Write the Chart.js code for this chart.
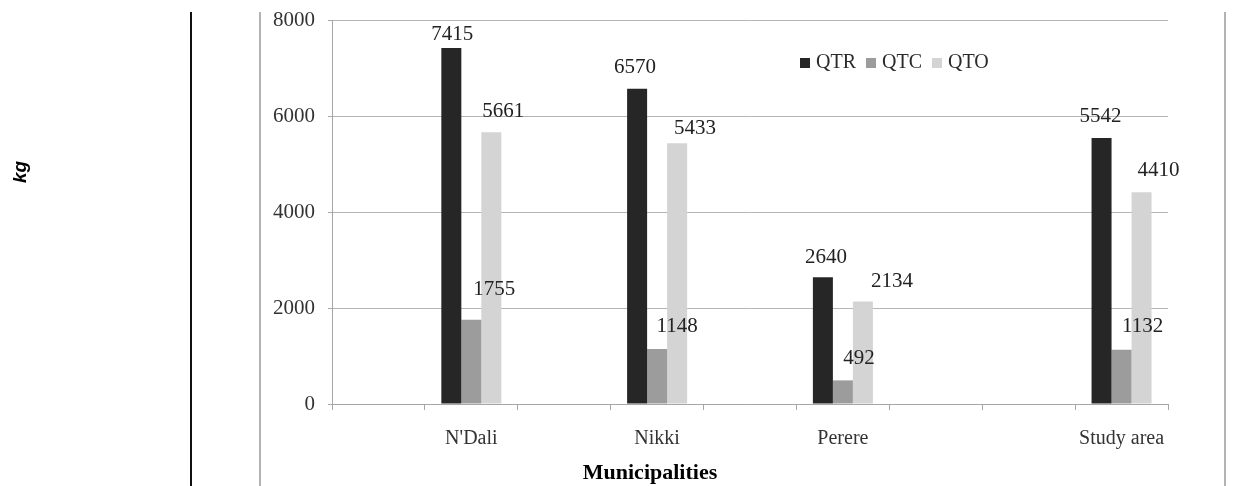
<!DOCTYPE html>
<html>
<head>
<meta charset="utf-8">
<title>QTR, QTC and QTO by municipality</title>
<style>
  html, body { margin: 0; padding: 0; background: #ffffff; }
  #wrap { width: 1247px; height: 486px; position: relative; }
  canvas { display: block; }
</style>
<script src="https://cdn.jsdelivr.net/npm/chart.js@4/dist/chart.umd.min.js"></script>
</head>
<body>
<div id="wrap"><canvas id="chart" width="1247" height="486"></canvas></div>
<script>
// Category slots along the x axis (blank slots keep the groups spaced out)
const categories = ['', "N'Dali", '', 'Nikki', '', 'Perere', '', '', 'Study area'];

// Quantities in kg per municipality
const qtr = [null, 7415, null, 6570, null, 2640, null, null, 5542];
const qtc = [null, 1755, null, 1148, null, 492, null, null, 1132];
const qto = [null, 5661, null, 5433, null, 2134, null, null, 4410];

const seriesNames = ['QTR', 'QTC', 'QTO'];
const yTicks = [0, 2000, 4000, 6000, 8000];
const xTitle = 'Municipalities';
const yTitle = 'kg';

// Styling
const seriesColors = ['#262626', '#9c9c9c', '#d4d4d4'];
const serif = "'Liberation Serif', 'Times New Roman', serif";
const sans = "'Liberation Sans', Arial, sans-serif";
const axisGray = '#a6a6a6';

// Nudges [dx, dy] for each value label, measured from the top-centre of its bar
const labelNudge = [
  [null, [1, -14], null, [-2, -21], null, [3, -20], null, null, [-1, -21]],
  [null, [23, -30], null, [20, -22], null, [16, -22], null, null, [21, -23]],
  [null, [12, -21], null, [18, -15], null, [29, -20], null, null, [17, -22]]
];

// White page, the left rules and the right frame edge
const framePlugin = {
  id: 'frame',
  beforeDraw(chart) {
    const ctx = chart.ctx;
    ctx.save();
    ctx.fillStyle = '#ffffff';
    ctx.fillRect(0, 0, chart.width, chart.height);
    ctx.lineWidth = 2;
    ctx.strokeStyle = '#111111';
    ctx.beginPath(); ctx.moveTo(191, 12); ctx.lineTo(191, chart.height); ctx.stroke();
    ctx.lineWidth = 1.5;
    ctx.strokeStyle = '#9a9a9a';
    ctx.beginPath(); ctx.moveTo(260, 12); ctx.lineTo(260, chart.height); ctx.stroke();
    ctx.beginPath(); ctx.moveTo(1225, 12); ctx.lineTo(1225, chart.height); ctx.stroke();
    ctx.restore();
  }
};

// Value labels above the bars
const valueLabelPlugin = {
  id: 'valueLabels',
  afterDatasetsDraw(chart) {
    const ctx = chart.ctx;
    ctx.save();
    ctx.font = '21px ' + serif;
    ctx.fillStyle = '#222222';
    ctx.textAlign = 'center';
    ctx.textBaseline = 'middle';
    chart.data.datasets.forEach((ds, i) => {
      const meta = chart.getDatasetMeta(i);
      ds.data.forEach((v, j) => {
        if (v === null || v === undefined) return;
        const bar = meta.data[j];
        const n = (labelNudge[i] && labelNudge[i][j]) || [0, -14];
        ctx.fillText(String(v), bar.x + n[0], bar.y + n[1]);
      });
    });
    ctx.restore();
  }
};

// Legend inside the plot and the two axis titles
const annotationPlugin = {
  id: 'annotations',
  afterDraw(chart) {
    const ctx = chart.ctx;
    ctx.save();
    // legend
    ctx.font = '20px ' + serif;
    ctx.textBaseline = 'middle';
    ctx.textAlign = 'left';
    let x = 800;
    const y = 63;
    chart.data.datasets.forEach((ds) => {
      ctx.fillStyle = ds.backgroundColor;
      ctx.fillRect(x, y - 5, 10, 10);
      x += 16;
      ctx.fillStyle = '#2a2a2a';
      ctx.fillText(ds.label, x, y);
      x += ctx.measureText(ds.label).width + 10;
    });
    // x-axis title
    ctx.font = 'bold 22px ' + serif;
    ctx.fillStyle = '#000000';
    ctx.textAlign = 'center';
    ctx.fillText(xTitle, 650, 473);
    // y-axis title, rotated
    ctx.translate(21, 172);
    ctx.rotate(-Math.PI / 2);
    ctx.font = 'italic bold 19px ' + sans;
    ctx.fillText(yTitle, 0, 0);
    ctx.restore();
  }
};

const chart = new Chart(document.getElementById('chart'), {
  type: 'bar',
  data: {
    labels: categories,
    datasets: [
      { label: seriesNames[0], data: qtr, backgroundColor: seriesColors[0] },
      { label: seriesNames[1], data: qtc, backgroundColor: seriesColors[1] },
      { label: seriesNames[2], data: qto, backgroundColor: seriesColors[2] }
    ]
  },
  options: {
    responsive: false,
    animation: false,
    devicePixelRatio: 1,
    layout: { padding: { top: 20, right: 79, bottom: 0, left: 0 } },
    datasets: { bar: { categoryPercentage: 0.646, barPercentage: 1.0, borderWidth: 0 } },
    plugins: {
      legend: { display: false },
      tooltip: { enabled: false },
      title: { display: false }
    },
    scales: {
      x: {
        offset: true,
        grid: {
          offset: true,
          drawOnChartArea: false,
          drawTicks: true,
          tickLength: 6,
          color: axisGray,
          lineWidth: 1
        },
        border: { display: true, color: axisGray, width: 1 },
        ticks: {
          autoSkip: false,
          maxRotation: 0,
          minRotation: 0,
          padding: 17,
          color: '#333333',
          font: { family: serif, size: 20 }
        },
        afterFit(scale) { scale.height = 82; scale.paddingLeft = 0; scale.paddingRight = 0; }
      },
      y: {
        min: 0,
        max: 8000,
        afterBuildTicks(scale) { scale.ticks = yTicks.map(v => ({ value: v })); },
        grid: {
          color: '#b5b5b5',
          lineWidth: 1,
          drawTicks: true,
          tickLength: 4,
          tickColor: axisGray
        },
        border: { display: true, color: axisGray, width: 1 },
        ticks: {
          padding: 13,
          color: '#333333',
          font: { family: serif, size: 21 },
          callback: (v) => String(v)
        },
        afterFit(scale) { scale.width = 332; scale.paddingTop = 0; scale.paddingBottom = 0; }
      }
    }
  },
  plugins: [framePlugin, valueLabelPlugin, annotationPlugin]
});
</script>
</body>
</html>
